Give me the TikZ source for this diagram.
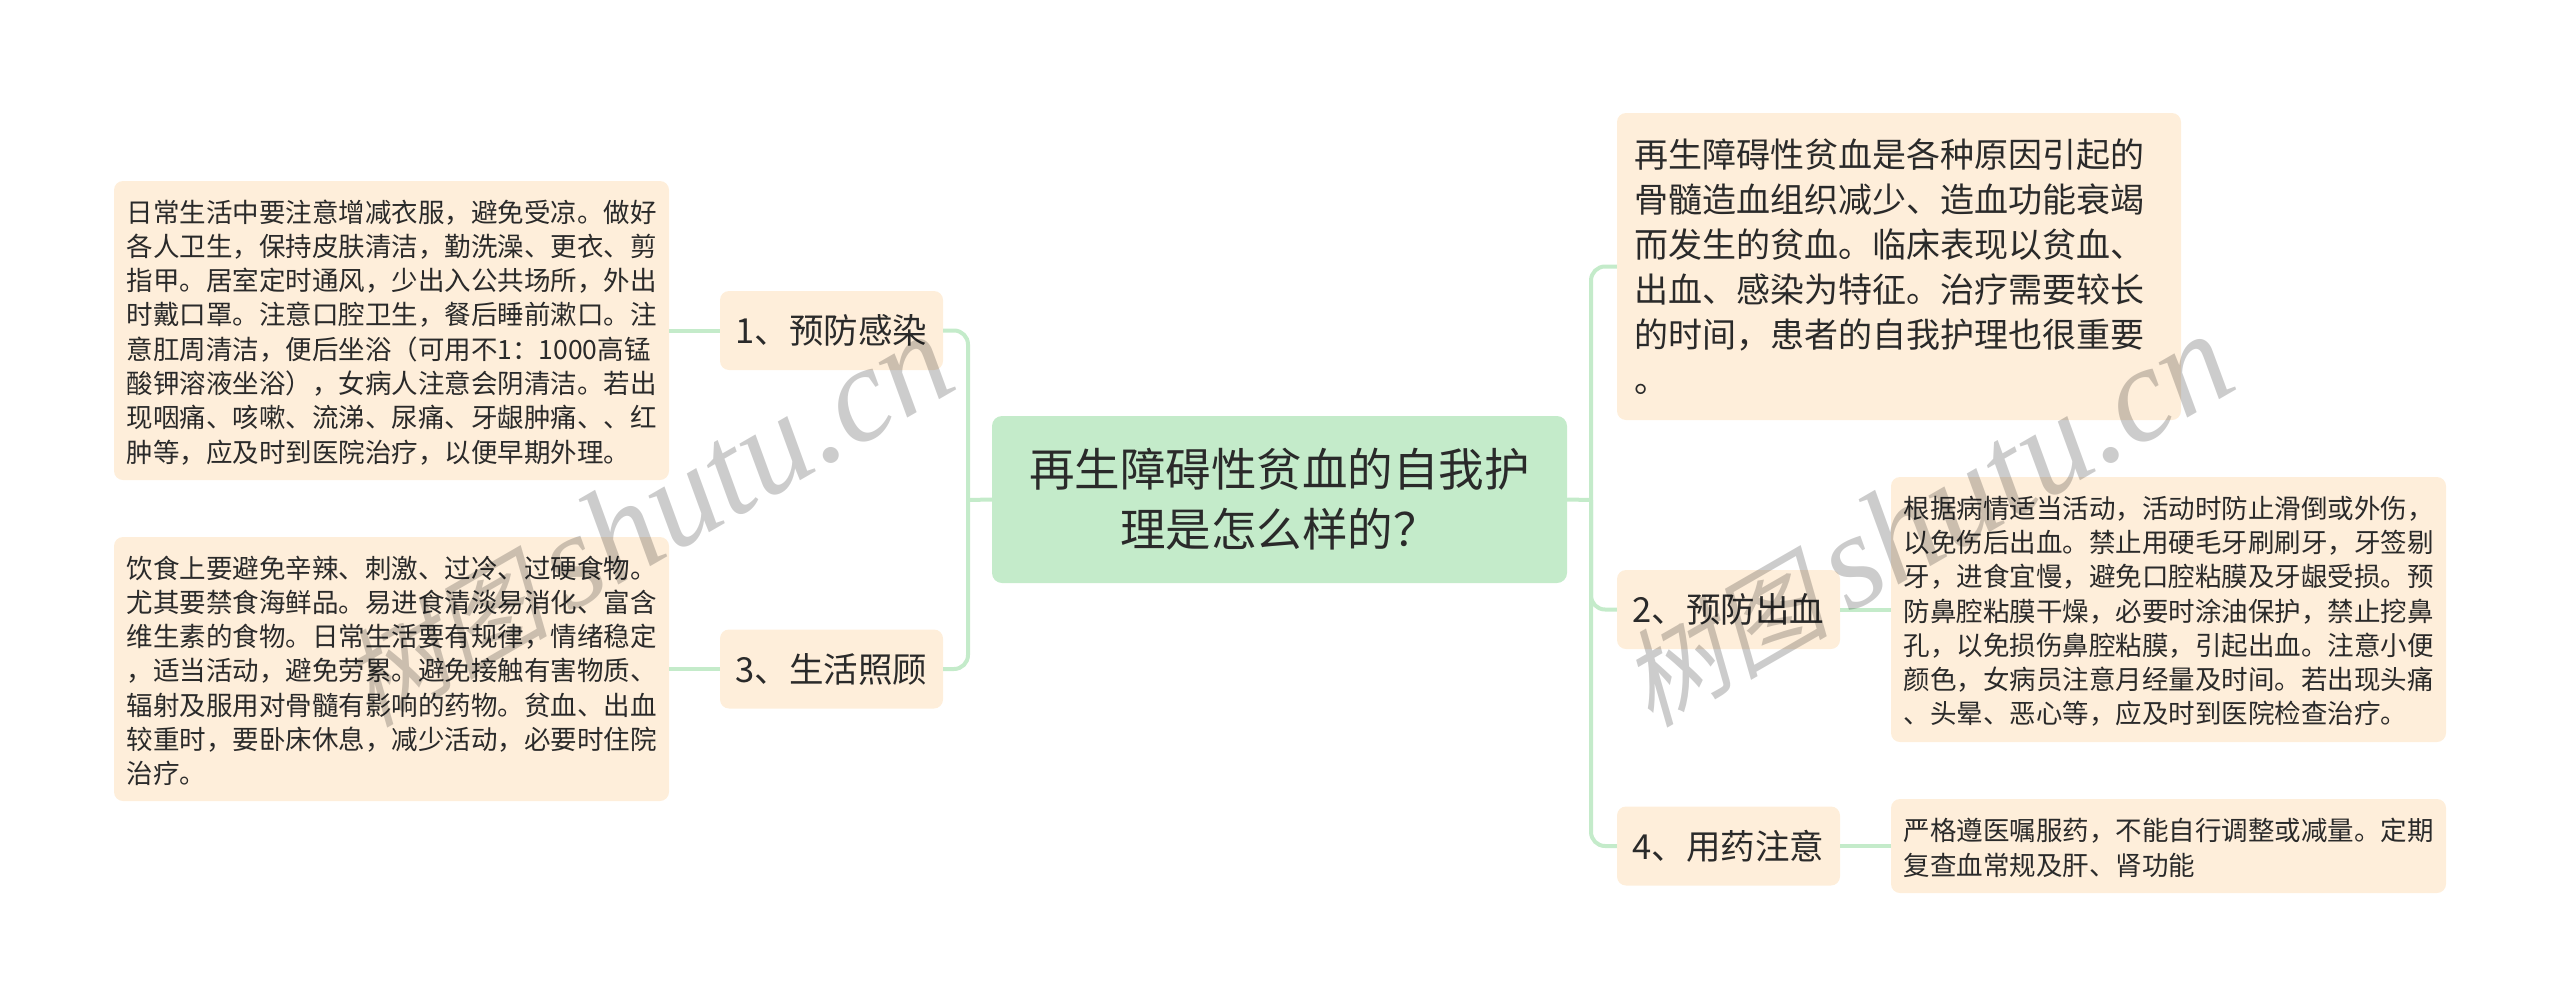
\documentclass[tikz,border=0pt]{standalone}
\usepackage{fontspec}
\setmainfont{Noto Sans CJK SC}
\newfontfamily\markcjk[FakeSlant=0.25]{Noto Sans CJK SC}
\newfontfamily\marklatin{Liberation Serif}
\newcommand\stamptext{\fontsize{105}{105}\selectfont\markcjk 树图\hspace{20pt}\fontsize{135}{135}\selectfont\marklatin\itshape shutu.cn}
\definecolor{rootfill}{HTML}{C4EBCA}
\definecolor{boxfill}{HTML}{FEEEDA}
\definecolor{inkcolor}{HTML}{2A2A2A}
\tikzset{
  rootbox/.style={fill=rootfill, text=inkcolor, rounded corners=10pt, align=center, minimum width=575pt, minimum height=167pt, font=\fontsize{45.5}{60}\selectfont},
  topicbox/.style={fill=boxfill, text=inkcolor, rounded corners=9pt, align=center, minimum width=223pt, minimum height=79pt, font=\fontsize{34.5}{45}\selectfont},
  notebox/.style={fill=boxfill, text=inkcolor, rounded corners=9pt, align=left, inner xsep=12.5pt, inner ysep=0pt, text width=530pt, font=\fontsize{26.5}{34.3}\selectfont, execute at begin node=\rule{0pt}{26pt}},
  bigbox/.style={notebox, inner xsep=17pt, text width=530pt, font=\fontsize{34}{45}\selectfont, execute at begin node={}},
  link/.style={draw=rootfill, line width=4pt, rounded corners=14pt},
  stamp/.style={rotate=30, text=black, opacity=0.2},
}
\begin{document}
\begin{tikzpicture}[x=1pt,y=-1pt]
\useasboundingbox (0,0) rectangle (2560,1007);
\coordinate (trunkleft) at (968,500);
\coordinate (trunkright) at (1591,500);
\node[rootbox] (root) at (1279.5,499.5) {再生障碍性贫血的自我护\\理是怎么样的？};
\node[topicbox] (prevent) at (831.5,330.5) {1、预防感染};
\node[topicbox] (care) at (831.5,669) {3、生活照顾};
\node[topicbox] (bleed) at (1728.5,609.5) {2、预防出血};
\node[topicbox] (drug) at (1728.5,846) {4、用药注意};
\node[notebox, minimum height=299pt] (preventnote) at (391.5,330.5) {日常生活中要注意增减衣服，避免受凉。做好\\各人卫生，保持皮肤清洁，勤洗澡、更衣、剪\\指甲。居室定时通风，少出入公共场所，外出\\时戴口罩。注意口腔卫生，餐后睡前漱口。注\\意肛周清洁，便后坐浴（可用不1：1000高锰\\酸钾溶液坐浴），女病人注意会阴清洁。若出\\现咽痛、咳嗽、流涕、尿痛、牙龈肿痛、、红\\肿等，应及时到医院治疗，以便早期外理。};
\node[notebox, minimum height=264pt] (carenote) at (391.5,669) {饮食上要避免辛辣、刺激、过冷、过硬食物。\\尤其要禁食海鲜品。易进食清淡易消化、富含\\维生素的食物。日常生活要有规律，情绪稳定\\，适当活动，避免劳累。避免接触有害物质、\\辐射及服用对骨髓有影响的药物。贫血、出血\\较重时，要卧床休息，减少活动，必要时住院\\治疗。};
\node[bigbox, minimum height=307pt] (intro) at (1899,266.5) {再生障碍性贫血是各种原因引起的\\骨髓造血组织减少、造血功能衰竭\\而发生的贫血。临床表现以贫血、\\出血、感染为特征。治疗需要较长\\的时间，患者的自我护理也很重要\\。};
\node[notebox, minimum height=265pt] (bleednote) at (2168.5,609.5) {根据病情适当活动，活动时防止滑倒或外伤，\\以免伤后出血。禁止用硬毛牙刷刷牙，牙签剔\\牙，进食宜慢，避免口腔粘膜及牙龈受损。预\\防鼻腔粘膜干燥，必要时涂油保护，禁止挖鼻\\孔，以免损伤鼻腔粘膜，引起出血。注意小便\\颜色，女病员注意月经量及时间。若出现头痛\\、头晕、恶心等，应及时到医院检查治疗。};
\node[notebox, minimum height=94pt] (drugnote) at (2168.5,846) {严格遵医嘱服药，不能自行调整或减量。定期\\复查血常规及肝、肾功能};
\draw[link] (prevent.east) -| (trunkleft);
\draw[link] (care.east) -| (trunkleft);
\draw[link] (root.west) -- (trunkleft);
\draw[link] (intro.west) -| (trunkright);
\draw[link] (bleed.west) -| (trunkright);
\draw[link] (drug.west) -| (trunkright);
\draw[link] (root.east) -- (trunkright);
\draw[link] (prevent.west) -- (preventnote.east);
\draw[link] (care.west) -- (carenote.east);
\draw[link] (bleed.east) -- (bleednote.west);
\draw[link] (drug.east) -- (drugnote.west);
\node[stamp] (stampleft) at (645,521) {\stamptext};
\node[stamp] (stampright) at (1925,521) {\stamptext};
\end{tikzpicture}
\end{document}
